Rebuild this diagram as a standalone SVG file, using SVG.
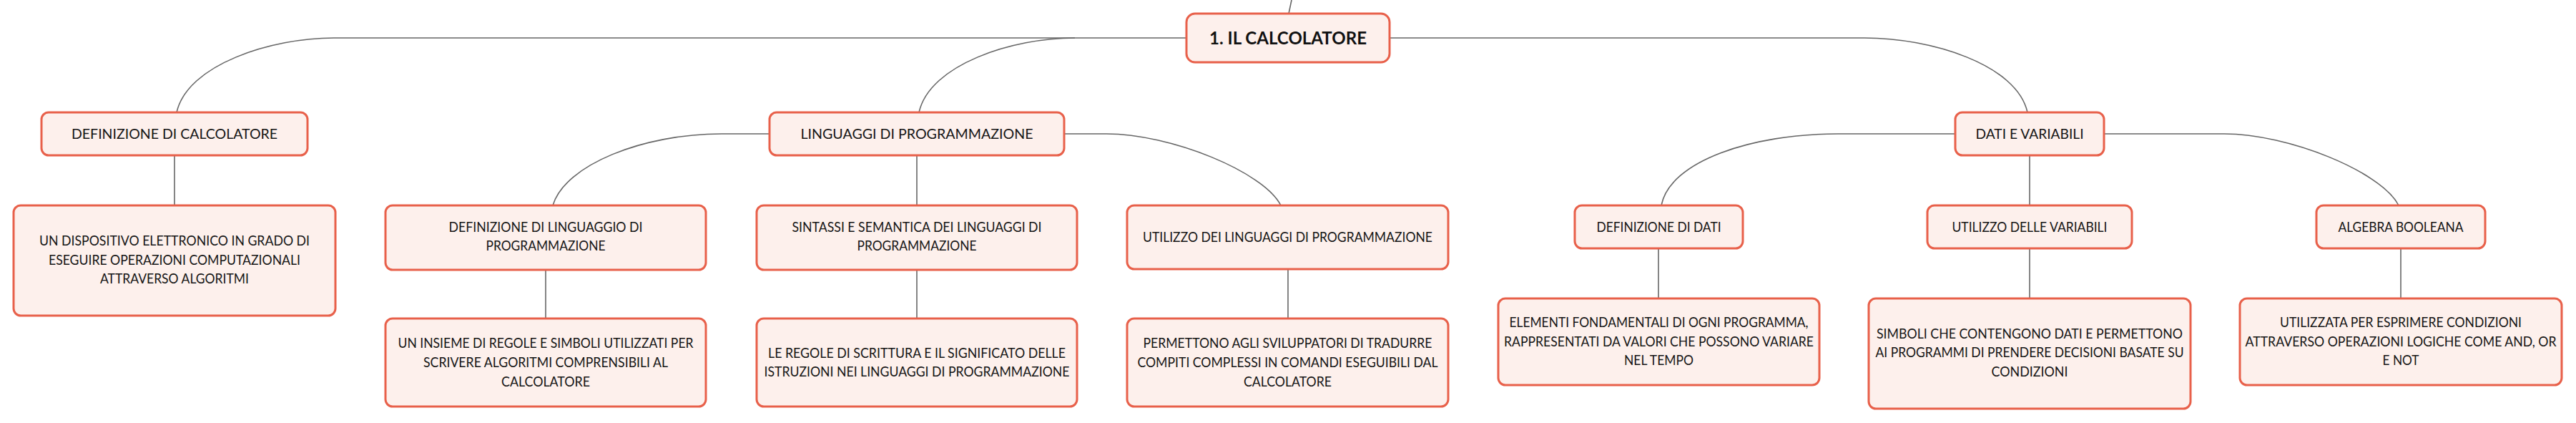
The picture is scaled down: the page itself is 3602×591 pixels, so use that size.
<svg xmlns="http://www.w3.org/2000/svg" width="3602" height="591" viewBox="0 0 3602 591">
<style>
  .box { fill: #fdf0ec; stroke: #e8604a; stroke-width: 3; }
  .t { font-family: Lato, "Open Sans", sans-serif; font-size: 18.5px; fill: #151515; text-anchor: middle; }
  .root { font-family: Lato, "Open Sans", sans-serif; font-size: 24px; font-weight: bold; fill: #111; text-anchor: middle; }
  .c { fill: none; stroke: #666; stroke-width: 1.6; }
</style>
<rect x="0" y="0" width="3602" height="591" fill="#ffffff"/>
<g id="connectors">
  <path class="c" d="M 1802 19 L 1806 0"/>
  <path class="c" d="M 1659 53 L 467 53 C 380 53 262 90 247 157"/>
  <path class="c" d="M 1503 53 C 1416 53 1300 90 1285 157"/>
  <path class="c" d="M 1943 53 L 2607 53 C 2700 53 2820 90 2835 157"/>
  <path class="c" d="M 244 217 L 244 287"/>
  <path class="c" d="M 1076 187 L 1009 187 C 900 187 790 230 773 287"/>
  <path class="c" d="M 1282 217 L 1282 287"/>
  <path class="c" d="M 1488 187 L 1547 187 C 1637 187 1767 240 1791 287"/>
  <path class="c" d="M 763 377 L 763 445"/>
  <path class="c" d="M 1282 377 L 1282 445"/>
  <path class="c" d="M 1801 376 L 1801 445"/>
  <path class="c" d="M 2734 187 L 2570 187 C 2450 187 2335 225 2323 287"/>
  <path class="c" d="M 2838 217 L 2838 287"/>
  <path class="c" d="M 2942 187 L 3110 187 C 3200 187 3330 240 3354 287"/>
  <path class="c" d="M 2319 347 L 2319 417"/>
  <path class="c" d="M 2838 347 L 2838 417"/>
  <path class="c" d="M 3357 347 L 3357 417"/>
</g>
<g id="root">
  <rect class="box" x="1659" y="19" width="284" height="68" rx="12" stroke-width="4"/>
  <text class="root" x="1801" y="61.5" textLength="220" lengthAdjust="spacingAndGlyphs">1. IL CALCOLATORE</text>
</g>
<g id="def-calcolatore">
  <rect class="box" x="58" y="157" width="372" height="60" rx="10"/>
  <text class="t" x="244" y="194" textLength="288" lengthAdjust="spacingAndGlyphs">DEFINIZIONE DI CALCOLATORE</text>
</g>
<g id="def-calcolatore-desc">
  <rect class="box" x="19" y="287" width="450" height="154" rx="10"/>
  <text class="t" x="244" y="343" textLength="378" lengthAdjust="spacingAndGlyphs">UN DISPOSITIVO ELETTRONICO IN GRADO DI</text>
  <text class="t" x="244" y="370" textLength="352" lengthAdjust="spacingAndGlyphs">ESEGUIRE OPERAZIONI COMPUTAZIONALI</text>
  <text class="t" x="244" y="396" textLength="208" lengthAdjust="spacingAndGlyphs">ATTRAVERSO ALGORITMI</text>
</g>
<g id="linguaggi">
  <rect class="box" x="1076" y="157" width="412" height="60" rx="10"/>
  <text class="t" x="1282" y="194" textLength="325" lengthAdjust="spacingAndGlyphs">LINGUAGGI DI PROGRAMMAZIONE</text>
</g>
<g id="def-linguaggio">
  <rect class="box" x="539" y="287" width="448" height="90" rx="10"/>
  <text class="t" x="763" y="324" textLength="271" lengthAdjust="spacingAndGlyphs">DEFINIZIONE DI LINGUAGGIO DI</text>
  <text class="t" x="763" y="350" textLength="167" lengthAdjust="spacingAndGlyphs">PROGRAMMAZIONE</text>
</g>
<g id="def-linguaggio-desc">
  <rect class="box" x="539" y="445" width="448" height="123" rx="10"/>
  <text class="t" x="763" y="486" textLength="413" lengthAdjust="spacingAndGlyphs">UN INSIEME DI REGOLE E SIMBOLI UTILIZZATI PER</text>
  <text class="t" x="763" y="513" textLength="342" lengthAdjust="spacingAndGlyphs">SCRIVERE ALGORITMI COMPRENSIBILI AL</text>
  <text class="t" x="763" y="540" textLength="124" lengthAdjust="spacingAndGlyphs">CALCOLATORE</text>
</g>
<g id="sintassi">
  <rect class="box" x="1058" y="287" width="448" height="90" rx="10"/>
  <text class="t" x="1282" y="324" textLength="349" lengthAdjust="spacingAndGlyphs">SINTASSI E SEMANTICA DEI LINGUAGGI DI</text>
  <text class="t" x="1282" y="350" textLength="167" lengthAdjust="spacingAndGlyphs">PROGRAMMAZIONE</text>
</g>
<g id="sintassi-desc">
  <rect class="box" x="1058" y="445" width="448" height="123" rx="10"/>
  <text class="t" x="1282" y="500" textLength="416" lengthAdjust="spacingAndGlyphs">LE REGOLE DI SCRITTURA E IL SIGNIFICATO DELLE</text>
  <text class="t" x="1282" y="526" textLength="427" lengthAdjust="spacingAndGlyphs">ISTRUZIONI NEI LINGUAGGI DI PROGRAMMAZIONE</text>
</g>
<g id="utilizzo-linguaggi">
  <rect class="box" x="1576" y="287" width="449" height="89" rx="10"/>
  <text class="t" x="1800.5" y="338" textLength="405" lengthAdjust="spacingAndGlyphs">UTILIZZO DEI LINGUAGGI DI PROGRAMMAZIONE</text>
</g>
<g id="utilizzo-linguaggi-desc">
  <rect class="box" x="1576" y="445" width="449" height="123" rx="10"/>
  <text class="t" x="1800.5" y="486" textLength="404" lengthAdjust="spacingAndGlyphs">PERMETTONO AGLI SVILUPPATORI DI TRADURRE</text>
  <text class="t" x="1800.5" y="513" textLength="420" lengthAdjust="spacingAndGlyphs">COMPITI COMPLESSI IN COMANDI ESEGUIBILI DAL</text>
  <text class="t" x="1800.5" y="540" textLength="123" lengthAdjust="spacingAndGlyphs">CALCOLATORE</text>
</g>
<g id="dati-variabili">
  <rect class="box" x="2734" y="157" width="208" height="60" rx="10"/>
  <text class="t" x="2838" y="194" textLength="151" lengthAdjust="spacingAndGlyphs">DATI E VARIABILI</text>
</g>
<g id="def-dati">
  <rect class="box" x="2202" y="287" width="235" height="60" rx="10"/>
  <text class="t" x="2319.5" y="324" textLength="174" lengthAdjust="spacingAndGlyphs">DEFINIZIONE DI DATI</text>
</g>
<g id="def-dati-desc">
  <rect class="box" x="2095" y="417" width="449" height="121" rx="10"/>
  <text class="t" x="2319.5" y="457" textLength="418" lengthAdjust="spacingAndGlyphs">ELEMENTI FONDAMENTALI DI OGNI PROGRAMMA,</text>
  <text class="t" x="2319.5" y="484" textLength="433" lengthAdjust="spacingAndGlyphs">RAPPRESENTATI DA VALORI CHE POSSONO VARIARE</text>
  <text class="t" x="2319.5" y="510" textLength="97" lengthAdjust="spacingAndGlyphs">NEL TEMPO</text>
</g>
<g id="utilizzo-variabili">
  <rect class="box" x="2695" y="287" width="286" height="60" rx="10"/>
  <text class="t" x="2838" y="324" textLength="217" lengthAdjust="spacingAndGlyphs">UTILIZZO DELLE VARIABILI</text>
</g>
<g id="utilizzo-variabili-desc">
  <rect class="box" x="2613" y="417" width="450" height="154" rx="10"/>
  <text class="t" x="2838" y="473" textLength="428" lengthAdjust="spacingAndGlyphs">SIMBOLI CHE CONTENGONO DATI E PERMETTONO</text>
  <text class="t" x="2838" y="499" textLength="431" lengthAdjust="spacingAndGlyphs">AI PROGRAMMI DI PRENDERE DECISIONI BASATE SU</text>
  <text class="t" x="2838" y="526" textLength="107" lengthAdjust="spacingAndGlyphs">CONDIZIONI</text>
</g>
<g id="algebra-booleana">
  <rect class="box" x="3239" y="287" width="236" height="60" rx="10"/>
  <text class="t" x="3357" y="324" textLength="175" lengthAdjust="spacingAndGlyphs">ALGEBRA BOOLEANA</text>
</g>
<g id="algebra-booleana-desc">
  <rect class="box" x="3132" y="417" width="450" height="121" rx="10"/>
  <text class="t" x="3357" y="457" textLength="338" lengthAdjust="spacingAndGlyphs">UTILIZZATA PER ESPRIMERE CONDIZIONI</text>
  <text class="t" x="3357" y="484" textLength="435" lengthAdjust="spacingAndGlyphs">ATTRAVERSO OPERAZIONI LOGICHE COME AND, OR</text>
  <text class="t" x="3357" y="510" textLength="51" lengthAdjust="spacingAndGlyphs">E NOT</text>
</g>
</svg>
